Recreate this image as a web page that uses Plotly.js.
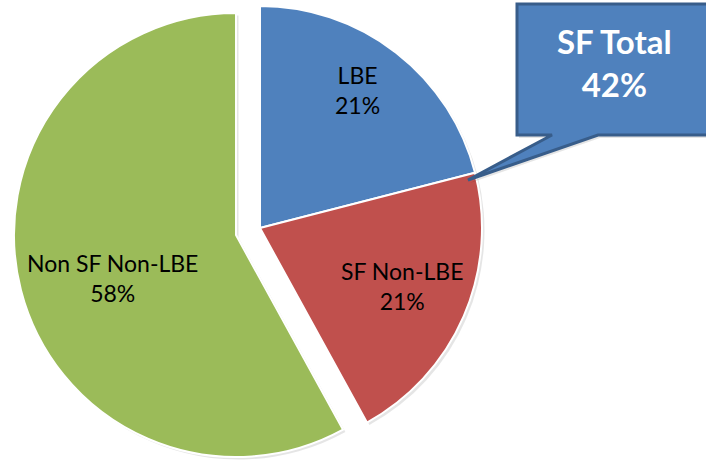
<!DOCTYPE html>
<html>
<head>
<meta charset="utf-8">
<script src="https://cdn.plot.ly/plotly-3.0.1.min.js"></script>
<style>html,body{margin:0;padding:0;background:#fff;}#chart{width:706px;height:460px;}</style>
</head>
<body>
<div id="chart"></div>
<script>
// ---- data ----
const labels = ['LBE', 'SF Non-LBE', 'Non SF Non-LBE'];
const values = [21, 21, 58];
const colors = ['#4F81BD', '#C0504D', '#9BBB59'];
const inSF = [true, true, false];          // slices pulled out together as "SF Total"
const calloutTitle = 'SF Total';

// ---- layout helpers (pixels -> paper) ----
const W = 706, H = 460;
const px = x => x / W;
const py = y => 1 - y / H;
const R = 222;                               // pie radius in px
const centers = { sf: [260, 228], rest: [236, 235] };
const labelRadius = [0.76, 0.69, 0.59];      // label distance from centre (fraction of radius)
const labelTurn = [-2.7, -1.0, -4.7];        // small angular nudge of each label (degrees)
const FONT = 'Lato, "Open Sans", sans-serif';

function domainAt(c, dx, dy) {
  return { x: [px(c[0] + dx - R), px(c[0] + dx + R)], y: [py(c[1] + dy + R), py(c[1] + dy - R)] };
}

const transparent = 'rgba(0,0,0,0)';
function pieTrace(group, shadow) {
  const show = inSF.map(v => v === group);
  const d = shadow ? 2.5 : 0;
  return {
    type: 'pie',
    labels: labels,
    values: values,
    sort: false,
    direction: 'clockwise',
    rotation: 0,
    domain: domainAt(group ? centers.sf : centers.rest, d, d),
    marker: {
      colors: colors.map((c, i) => show[i] ? (shadow ? 'rgba(0,0,0,0.10)' : c) : transparent),
      line: { color: shadow ? transparent : '#ffffff', width: show.map(s => s && !shadow ? 2 : 0) }
    },
    textinfo: 'none',
    hoverinfo: shadow ? 'skip' : 'label+percent',
    showlegend: false
  };
}

const total = values.reduce((a, b) => a + b, 0);
const sfTotal = values.filter((v, i) => inSF[i]).reduce((a, b) => a + b, 0);
const sfPct = Math.round(sfTotal / total * 100);

// slice labels placed near each slice's bisector (angles derived from the values)
let cum = 0;
const sliceLabels = values.map((v, i) => {
  const mid = (cum + v / 2) / total * 2 * Math.PI + labelTurn[i] * Math.PI / 180;
  cum += v;
  const c = inSF[i] ? centers.sf : centers.rest;
  const r = labelRadius[i] * R;
  const x = c[0] + r * Math.sin(mid);
  const y = c[1] - r * Math.cos(mid);
  return {
    xref: 'paper', yref: 'paper', x: px(x), y: py(y),
    xanchor: 'center', yanchor: 'middle', showarrow: false, align: 'center',
    text: labels[i] + '<br>' + Math.round(v / total * 100) + '%',
    font: { family: FONT, size: 23, color: '#000000' }
  };
});

// callout bubble outline (pixel coords -> paper)
const bubble = [[517, 4], [710, 4], [710, 135], [598, 135], [468, 180], [552, 135], [517, 135]];
const toPath = (pts, dx, dy) => 'M ' + pts.map(p => px(p[0] + dx) + ',' + py(p[1] + dy)).join(' L ') + ' Z';

const data = [pieTrace(false, true), pieTrace(true, true), pieTrace(false, false), pieTrace(true, false)];

const layout = {
  width: W, height: H,
  margin: { l: 0, r: 0, t: 0, b: 0 },
  paper_bgcolor: '#ffffff',
  showlegend: false,
  shapes: [
    { type: 'path', xref: 'paper', yref: 'paper', path: toPath(bubble, 2, 3),
      fillcolor: 'rgba(0,0,0,0.10)', line: { width: 0 }, layer: 'above' },
    { type: 'path', xref: 'paper', yref: 'paper', path: toPath(bubble, 0, 0),
      fillcolor: '#4F81BD', line: { color: '#385D8A', width: 3 }, layer: 'above' }
  ],
  annotations: sliceLabels.concat([{
    xref: 'paper', yref: 'paper', x: px(614), y: py(62),
    xanchor: 'center', yanchor: 'middle', showarrow: false,
    text: '<b>' + calloutTitle + '<br>' + sfPct + '%</b>',
    font: { family: FONT, size: 33, color: '#ffffff' },
    align: 'center'
  }])
};

Plotly.newPlot('chart', data, layout, { displayModeBar: false, staticPlot: true });
</script>
</body>
</html>
